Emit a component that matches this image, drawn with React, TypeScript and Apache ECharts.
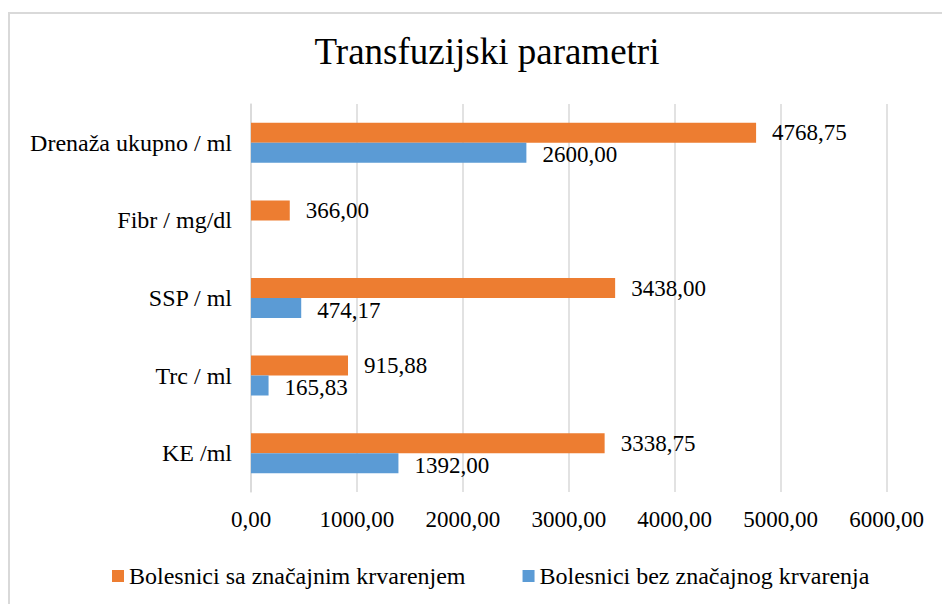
import React, { useEffect, useRef } from "react";
import * as echarts from "echarts";

const categories = ["KE /ml", "Trc / ml", "SSP / ml", "Fibr / mg/dl", "Drenaža ukupno / ml"];
const significantBleeding = [3338.75, 915.88, 3438.0, 366.0, 4768.75];
const noSignificantBleeding = [1392.0, 165.83, 474.17, null, 2600.0];
const seriesNames = ["Bolesnici sa značajnim krvarenjem", "Bolesnici bez značajnog krvarenja"];
const axisMin = 0;
const axisMax = 6000;
const axisStep = 1000;

const fmt = (v: number) => v.toFixed(2).replace(".", ",");
const FONT = "Liberation Serif";

export default function App() {
  const ref = useRef<HTMLDivElement>(null);
  useEffect(() => {
    if (!ref.current) return;
    const chart = echarts.init(ref.current, null, { renderer: "svg" });
    const label = {
      show: true,
      position: "right" as const,
      distance: 16,
      color: "#000",
      fontFamily: FONT,
      fontWeight: "normal" as const,
      fontSize: 23,
      formatter: (p: any) => (p.value == null ? "" : fmt(p.value)),
    };
    chart.setOption({
      animation: false,
      backgroundColor: "#fff",
      textStyle: { fontFamily: FONT },
      title: {
        text: "Transfuzijski parametri",
        left: 482,
        textAlign: "center",
        top: 28,
        textStyle: { fontFamily: FONT, fontSize: 37, fontWeight: "normal", color: "#000" },
      },
      graphic: [
        {
          type: "rect",
          shape: { x: 9, y: 13, width: 1000, height: 1000 },
          style: { fill: "none", stroke: "#d9d9d9", lineWidth: 2 },
          silent: true,
        },
      ],
      legend: {
        left: 112,
        top: 564,
        padding: 0,
        itemWidth: 12,
        itemHeight: 12,
        itemGap: 57,
        icon: "rect",
        textStyle: { fontFamily: FONT, fontSize: 24, fontWeight: "normal", color: "#000" },
        data: seriesNames,
      },
      grid: { left: 251, right: 55.5, top: 104, bottom: 112, containLabel: false },
      xAxis: {
        type: "value",
        min: axisMin,
        max: axisMax,
        interval: axisStep,
        axisLine: { show: false },
        axisTick: { show: false },
        splitLine: { show: true, lineStyle: { color: "#d9d9d9", width: 1.5 } },
        axisLabel: {
          margin: 16,
          fontFamily: FONT,
          fontWeight: "normal",
          fontSize: 23,
          color: "#000",
          formatter: (v: number) => fmt(v),
        },
      },
      yAxis: {
        type: "category",
        data: categories,
        axisLine: { show: true, lineStyle: { color: "#d9d9d9", width: 1.5 } },
        axisTick: { show: false },
        axisLabel: { margin: 19, fontFamily: FONT, fontWeight: "normal", fontSize: 24, color: "#000" },
      },
      series: [
        {
          name: seriesNames[0],
          type: "bar",
          data: significantBleeding,
          barWidth: 20,
          barGap: "0%",
          itemStyle: { color: "#ED7D31" },
          label,
        },
        {
          name: seriesNames[1],
          type: "bar",
          data: noSignificantBleeding,
          barWidth: 20,
          barGap: "0%",
          itemStyle: { color: "#5B9BD5" },
          label: { ...label, offset: [0, 2] },
        },
      ],
    });
    return () => chart.dispose();
  }, []);
  return (
    <div
      ref={ref}
      style={{ position: "fixed", left: 0, top: 0, width: 942, height: 604, background: "#fff" }}
    />
  );
}
